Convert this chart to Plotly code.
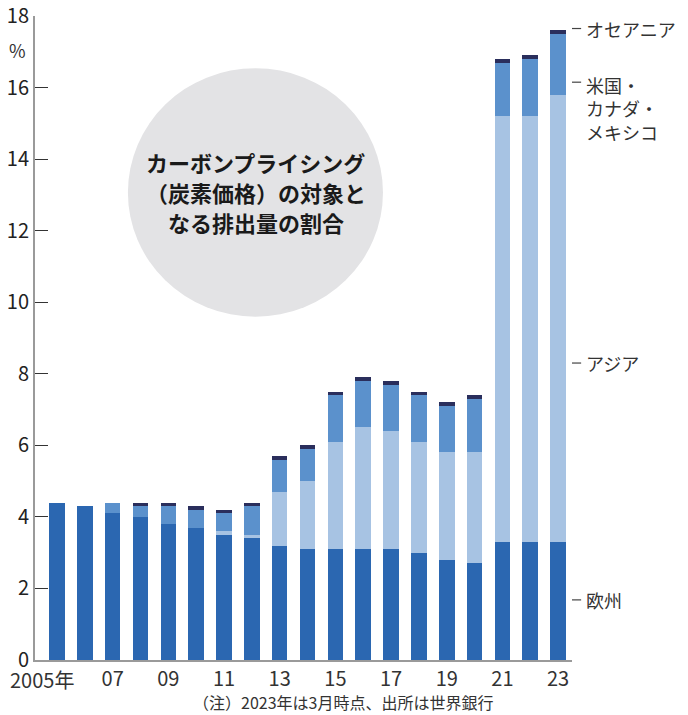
import plotly.graph_objects as go

years = list(range(2005, 2024))
europe = [4.4, 4.3, 4.1, 4.0, 3.8, 3.7, 3.5, 3.4, 3.2, 3.1, 3.1, 3.1, 3.1, 3.0, 2.8, 2.7, 3.3, 3.3, 3.3]
asia = [0, 0, 0, 0, 0, 0, 0.1, 0.1, 1.5, 1.9, 3.0, 3.4, 3.3, 3.1, 3.0, 3.1, 11.9, 11.9, 12.5]
north_america = [0, 0, 0.3, 0.3, 0.5, 0.5, 0.5, 0.8, 0.9, 0.9, 1.3, 1.3, 1.3, 1.3, 1.3, 1.5, 1.5, 1.6, 1.7]
oceania = [0, 0, 0, 0.1, 0.1, 0.1, 0.1, 0.1, 0.1, 0.1, 0.1, 0.1, 0.1, 0.1, 0.1, 0.1, 0.1, 0.1, 0.1]

series_names = ["欧州", "アジア", "米国・<br>カナダ・<br>メキシコ", "オセアニア"]
colors = ["#2b67b1", "#a7c3e3", "#5b91cc", "#2a2e5c"]
label_y = [1.68, 8.3, 16.15, 17.65]

tick_years = [2005, 2007, 2009, 2011, 2013, 2015, 2017, 2019, 2021, 2023]
tick_labels = ["2005年", "07", "09", "11", "13", "15", "17", "19", "21", "23"]

title_lines = ["カーボンプライシング", "（炭素価格）の対象と", "なる排出量の割合"]
note = "（注）2023年は3月時点、出所は世界銀行"

NUM_FONT = "Liberation Sans Narrow, Noto Sans CJK JP, sans-serif"
JP_FONT = "Noto Sans CJK JP, sans-serif"

fig = go.Figure()
for name, vals, c in zip(series_names, [europe, asia, north_america, oceania], colors):
    fig.add_trace(go.Bar(x=years, y=vals, name=name.replace("<br>", ""),
                         marker=dict(color=c, line=dict(width=0)),
                         width=0.56, showlegend=False, hoverinfo="skip"))

fig.update_layout(
    width=688, height=715,
    margin=dict(l=35, r=116, t=16, b=55, autoexpand=False),
    barmode="stack",
    plot_bgcolor="white", paper_bgcolor="white",
    xaxis=dict(range=[2004.21, 2023.5], tickmode="array", tickvals=tick_years,
               ticktext=[""] + tick_labels[1:],
               automargin=False, tickangle=0, ticklabeloverflow="allow",
               showgrid=False, zeroline=False, showline=True, linecolor="#9a9a9a", linewidth=2,
               ticks="", tickfont=dict(family=NUM_FONT, size=20, color="#333333")),
    yaxis=dict(range=[0, 18], tickmode="array", tickvals=list(range(0, 19, 2)),
               automargin=False, ticklabeloverflow="allow",
               showgrid=False, zeroline=False, showline=True, linecolor="#9a9a9a", linewidth=2,
               ticks="inside", ticklen=13, tickwidth=1.3, tickcolor="#333333",
               tickfont=dict(family=NUM_FONT, size=20, color="#222222")),
)

# first x tick label sits left of its bar in the reference
fig.add_annotation(xref="x", yref="y", x=tick_years[0], y=0, text=tick_labels[0], showarrow=False,
                   xanchor="center", yanchor="middle", xshift=-15, yshift=-19,
                   font=dict(family=NUM_FONT, size=20, color="#333333"))

# background circle
fig.add_shape(type="circle", xref="paper", yref="paper", x0=0.173, x1=0.648, y0=0.533, y1=0.919,
              fillcolor="#e3e3e5", line=dict(width=0), layer="below")

title_y = [0.7733, 0.7267, 0.6801]
for t, yy in zip(title_lines, title_y):
    fig.add_annotation(xref="paper", yref="paper", x=0.4115, y=yy, text=t,
                       showarrow=False, xanchor="center", yanchor="middle", borderpad=0,
                       font=dict(family=JP_FONT, size=22, color="#1a1a1a", weight=600))

# right-side series labels
for name, yy in zip(series_names, label_y):
    fig.add_shape(type="line", xref="paper", yref="y", x0=1.0, x1=1.017, y0=yy, y1=yy,
                  line=dict(color="#444444", width=1.2))
    multi = "<br>" in name
    fig.add_annotation(xref="paper", yref="y", x=1.022, y=yy, text=name, showarrow=False,
                       xanchor="left", yanchor="top" if multi else "middle",
                       yshift=12.5 if multi else 0, align="left",
                       font=dict(family=JP_FONT, size=18, color="#333333"))

fig.add_annotation(xref="paper", yref="paper", x=-0.0317, y=0.947, text="%", showarrow=False,
                   xanchor="center", yanchor="middle", font=dict(family=NUM_FONT, size=18, color="#333333"))

fig.add_annotation(xref="paper", yref="paper", x=0.574, y=-0.0652, text=note, showarrow=False,
                   xanchor="center", yanchor="middle", font=dict(family=JP_FONT, size=16, color="#333333"))

fig.write_html("out.html", config={"displayModeBar": False},
               post_script="document.body.style.margin='0px';")
